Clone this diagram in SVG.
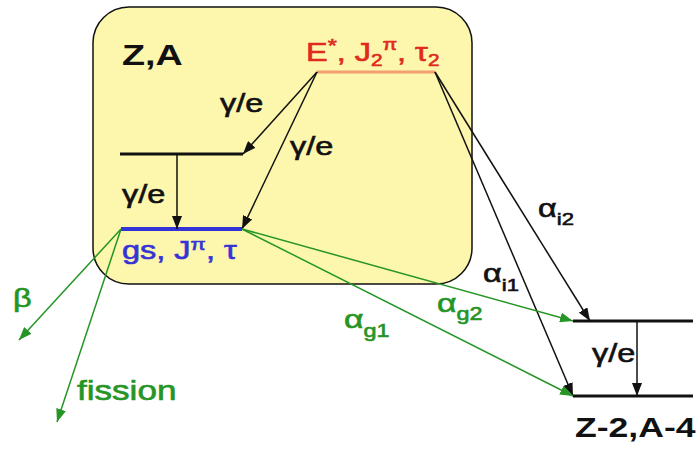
<svg xmlns="http://www.w3.org/2000/svg" width="699" height="453" viewBox="0 0 699 453">
<defs>
<style>
text{font-family:"Liberation Sans",Arial,sans-serif;stroke-width:0.6}
.b{font-weight:bold;fill:#111;stroke:none}
.k{fill:#111;stroke:#111}
.g{fill:#259525;stroke:#259525}
.r{fill:#e02a1e;stroke:#e02a1e}
.bl{fill:#3434d6;stroke:#3434d6}
.lvl{stroke:#111;stroke-width:3;fill:none}
.ck{stroke:#111;stroke-width:1.5;fill:none;marker-end:url(#ak)}
.cg{stroke:#259525;stroke-width:1.5;fill:none;marker-end:url(#ag)}
</style>
<marker id="ak" markerUnits="userSpaceOnUse" markerWidth="14" markerHeight="10" refX="13" refY="5" orient="auto">
<path d="M0,0 L13,5 L0,10 z" fill="#111"/>
</marker>
<marker id="ag" markerUnits="userSpaceOnUse" markerWidth="14" markerHeight="10" refX="13" refY="5" orient="auto">
<path d="M0,0 L13,5 L0,10 z" fill="#259525"/>
</marker>
</defs>
<rect width="699" height="453" fill="#fff"/>
<g id="nucleus-ZA">
<rect x="93" y="7" width="379" height="277" rx="36" ry="36" fill="#fdf6ad" stroke="#111" stroke-width="1.5"/>
<text class="b" font-size="29" transform="translate(122,65) scale(1.3,1)">Z,A</text>
</g>
<g id="level-excited">
<line x1="317" y1="72" x2="435" y2="72" stroke="#f0a070" stroke-width="3"/>
<text class="r" font-size="25" transform="translate(306,61) scale(1.3,1)">E<tspan font-size="18" dy="-9">*</tspan><tspan dy="9">, J</tspan><tspan font-size="16" dy="5">2</tspan><tspan font-size="16" dy="-16">π</tspan><tspan dy="11">, τ</tspan><tspan font-size="16" dy="5">2</tspan></text>
</g>
<g id="level-intermediate">
<line class="lvl" x1="120" y1="154" x2="243" y2="154"/>
</g>
<g id="level-gs">
<line x1="121" y1="229" x2="242" y2="229" stroke="#3434d6" stroke-width="4"/>
<text class="bl" font-size="25" transform="translate(122,259) scale(1.3,1)">gs, J<tspan font-size="17" dy="-9">π</tspan><tspan dy="9">, τ</tspan></text>
</g>
<g id="daughter-upper">
<line class="lvl" x1="573" y1="321" x2="693" y2="321"/>
</g>
<g id="daughter-lower">
<line class="lvl" x1="573" y1="396" x2="693" y2="396"/>
<text class="b" font-size="28" transform="translate(575,437) scale(1.27,1)">Z-2,A-4</text>
</g>
<g id="connectors">
<line class="ck" x1="317" y1="72" x2="243" y2="154"/>
<line class="ck" x1="317" y1="72" x2="242" y2="229"/>
<line class="ck" x1="177" y1="154" x2="177" y2="229"/>
<line class="ck" x1="435" y1="72" x2="590" y2="321"/>
<line class="ck" x1="435" y1="72" x2="573" y2="396"/>
<line class="ck" x1="637" y1="321" x2="637" y2="396"/>
<line class="cg" x1="242" y1="229" x2="573" y2="321"/>
<line class="cg" x1="242" y1="229" x2="573" y2="396"/>
<line class="cg" x1="121" y1="229" x2="19" y2="340"/>
<line class="cg" x1="121" y1="229" x2="57" y2="422"/>
<text class="k" font-size="25" transform="translate(220,112) scale(1.3,1)">γ/e</text>
<text class="k" font-size="25" transform="translate(290,155) scale(1.3,1)">γ/e</text>
<text class="k" font-size="25" transform="translate(122,203) scale(1.3,1)">γ/e</text>
<text class="k" font-size="25" transform="translate(592,362) scale(1.3,1)">γ/e</text>
<text class="k" font-size="25" transform="translate(538,217) scale(1.3,1)">α<tspan font-size="17" dy="8">i2</tspan></text>
<text class="k" font-size="25" transform="translate(483,282) scale(1.3,1)">α<tspan font-size="17" dy="9">i1</tspan></text>
<text class="g" font-size="26" transform="translate(344,328) scale(1.3,1)">α<tspan font-size="18" dy="9">g1</tspan></text>
<text class="g" font-size="26" transform="translate(437,312) scale(1.3,1)">α<tspan font-size="18" dy="8">g2</tspan></text>
<text class="g" font-size="25" transform="translate(13,307) scale(1.3,1)">β</text>
<text class="g" font-size="27" transform="translate(77,400) scale(1.3,1)">fission</text>
</g>
</svg>
